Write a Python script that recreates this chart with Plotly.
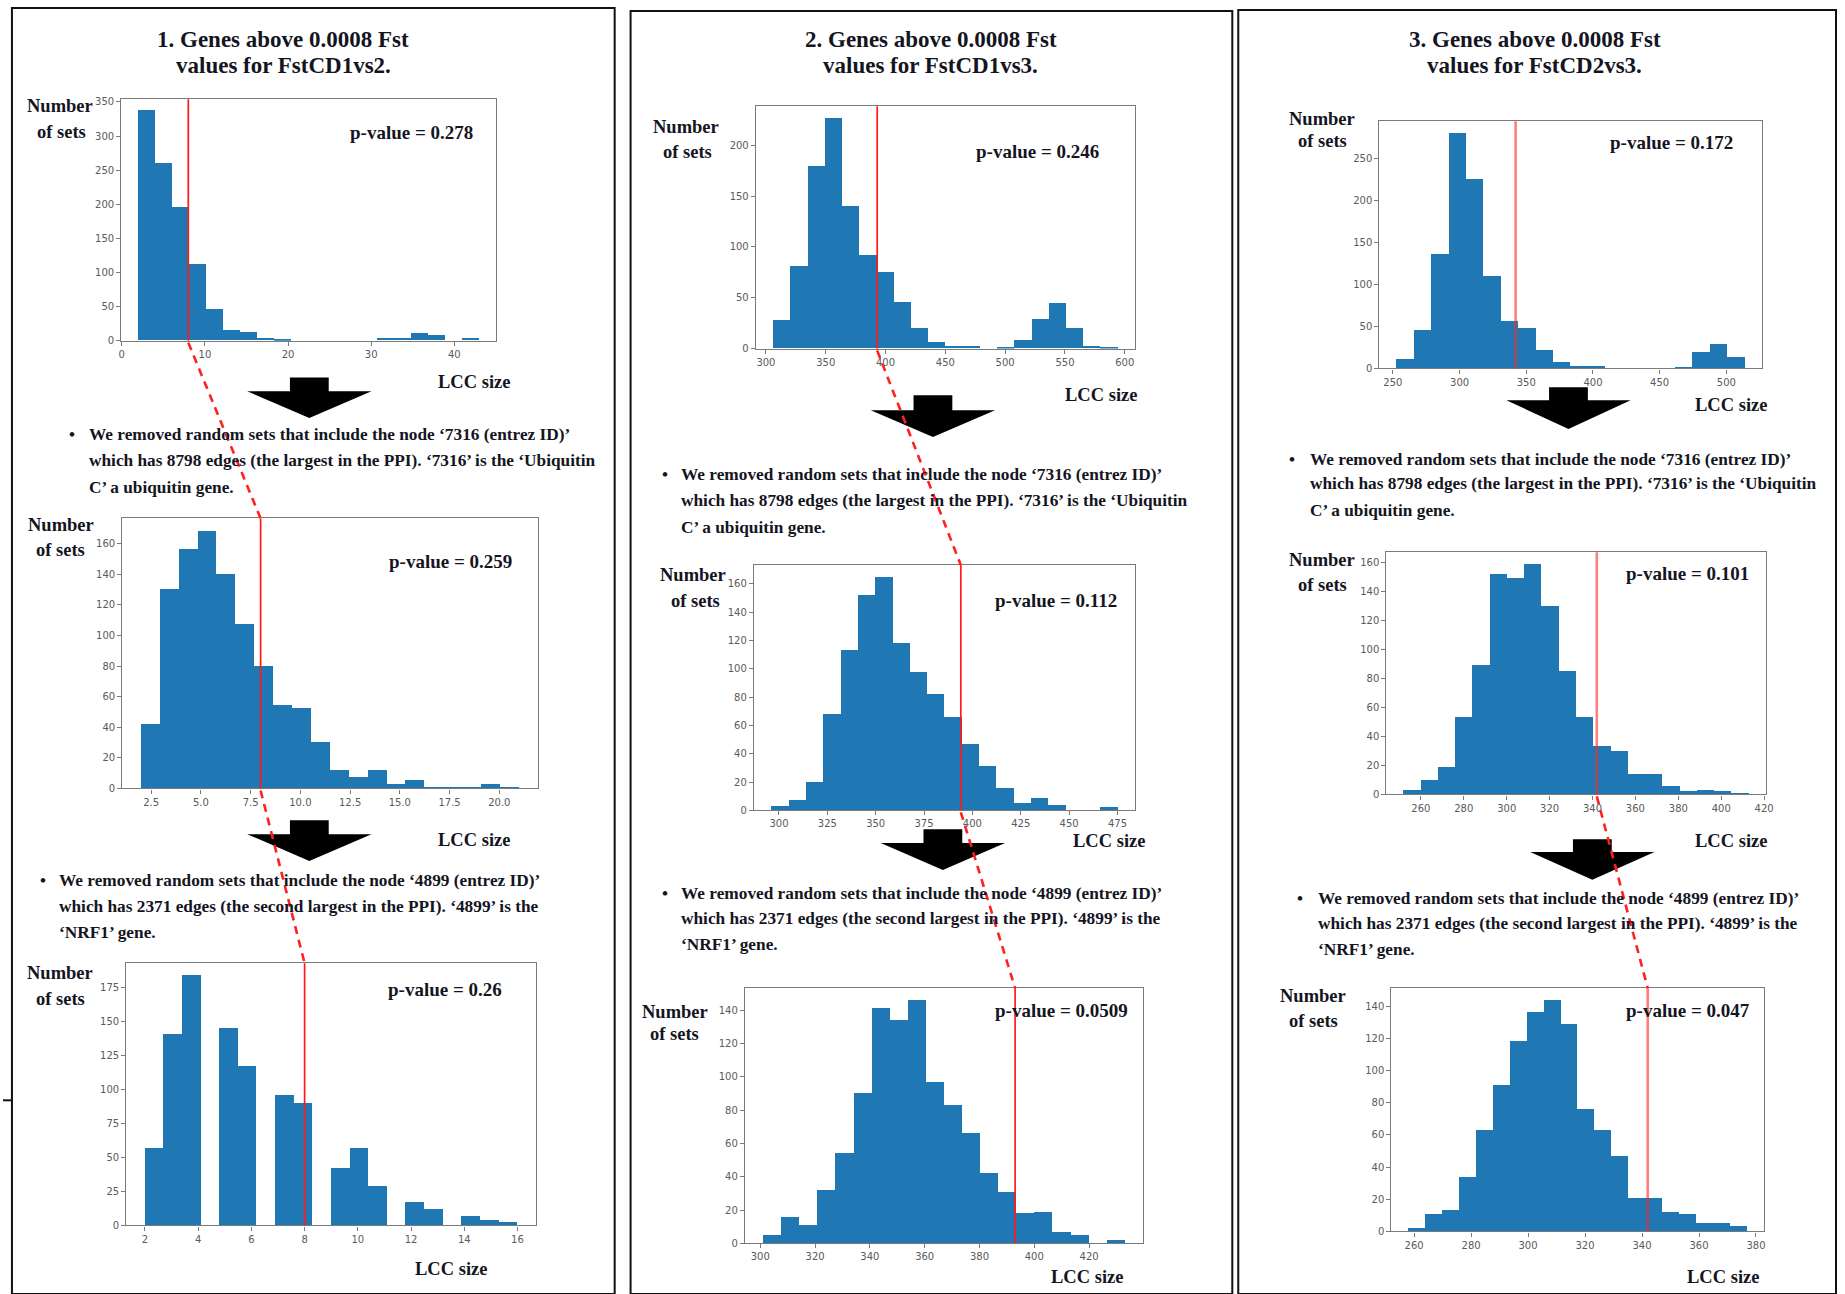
import numpy as np
import plotly.graph_objects as go

W, H = 1845, 1294

# ---------------- data ----------------
# Histogram counts (20 bins each) of LCC size over random gene sets,
# with the bin range (min, max) of the sampled LCC sizes.
cd12_all = [337, 260, 196, 112, 46, 15, 12, 4, 2, 0, 0, 0, 0, 0, 4, 3, 10, 8, 0, 3]
cd12_all_range = (2, 43)
cd12_no7316 = [42, 130, 156, 168, 140, 107, 80, 54, 52, 30, 12, 7, 12, 3, 5, 1, 1, 1, 3, 1]
cd12_no7316_range = (2, 21)
cd12_no4899 = [57, 141, 184, 0, 145, 117, 0, 96, 90, 0, 42, 57, 29, 0, 17, 12, 0, 7, 4, 2]
cd12_no4899_range = (2, 16)

cd13_all = [28, 81, 179, 227, 140, 92, 75, 46, 20, 6, 2, 2, 0, 1, 8, 29, 45, 20, 2, 1]
cd13_all_range = (306, 594)
cd13_no7316 = [3, 7, 20, 68, 113, 152, 165, 118, 98, 82, 66, 47, 31, 16, 5, 9, 4, 0, 0, 2]
cd13_no7316_range = (296, 475)
cd13_no4899 = [5, 16, 11, 32, 54, 90, 141, 134, 146, 97, 83, 66, 42, 31, 18, 19, 7, 5, 0, 2]
cd13_no4899_range = (301, 433)

cd23_all = [11, 46, 136, 281, 226, 110, 57, 48, 22, 7, 3, 3, 0, 0, 0, 0, 2, 20, 29, 13]
cd23_all_range = (253, 514)
cd23_no7316 = [3, 10, 19, 53, 89, 152, 149, 159, 130, 85, 53, 33, 30, 14, 14, 6, 2, 3, 2, 1]
cd23_no7316_range = (252, 413)
cd23_no4899 = [2, 11, 13, 34, 63, 91, 118, 136, 144, 129, 76, 63, 47, 21, 21, 12, 11, 5, 5, 3]
cd23_no4899_range = (258, 377)

# Observed LCC size of the real gene set (red line) and its p-value
observed_lcc = [8, 8, 8, 393, 394, 393, 342, 342, 342]
p_values = ["0.278", "0.259", "0.26", "0.246", "0.112", "0.0509", "0.172", "0.101", "0.047"]

titles = [
    ["1. Genes above 0.0008 Fst", "values for FstCD1vs2."],
    ["2. Genes above 0.0008 Fst", "values for FstCD1vs3."],
    ["3. Genes above 0.0008 Fst", "values for FstCD2vs3."],
]
note_7316 = [
    "We removed random sets that include the node \u20187316 (entrez ID)\u2019",
    "which has 8798 edges (the largest in the PPI). \u20187316\u2019 is the \u2018Ubiquitin",
    "C\u2019 a ubiquitin gene.",
]
note_4899 = [
    "We removed random sets that include the node \u20184899 (entrez ID)\u2019",
    "which has 2371 edges (the second largest in the PPI). \u20184899\u2019 is the",
    "\u2018NRF1\u2019 gene.",
]
y_label = ["Number", "of sets"]
x_label = "LCC size"

hist_counts = [cd12_all, cd12_no7316, cd12_no4899,
               cd13_all, cd13_no7316, cd13_no4899,
               cd23_all, cd23_no7316, cd23_no4899]
hist_ranges = [cd12_all_range, cd12_no7316_range, cd12_no4899_range,
               cd13_all_range, cd13_no7316_range, cd13_no4899_range,
               cd23_all_range, cd23_no7316_range, cd23_no4899_range]

# ---------------- layout geometry (pixels) ----------------
# plot boxes: left, top, right, bottom
boxes = [
    (119, 97, 496, 340), (120, 519, 538, 791), (124, 967, 536, 1231),
    (757, 104, 1138, 348), (755, 566, 1138, 813), (746, 992, 1146, 1249),
    (1384, 119, 1769, 368), (1391, 553, 1773, 797), (1396, 992, 1771, 1237),
]
x_dticks = [10, 2.5, 2, 50, 25, 20, 50, 20, 20]
y_dticks = [50, 20, 25, 50, 20, 20, 50, 20, 20]
number_pos = [((57, 104), (59, 130)), ((58, 526), (58, 551)), ((57, 977), (58, 1003)),
              ((687, 125), (688, 150)), ((694, 576), (696, 602)), ((676, 1016), (675, 1038)),
              ((1326, 117), (1327, 139)), ((1326, 561), (1327, 586)), ((1317, 1000), (1318, 1025))]
pval_pos = [(411, 130), (450, 562), (444, 993), (1040, 150), (1059, 602), (1064, 1015),
            (1678, 140), (1694, 574), (1694, 1015)]
lcc_pos = [(474, 382), (474, 843), (450, 1275), (1104, 395), (1112, 844), (1090, 1283),
           (1737, 405), (1737, 844), (1729, 1283)]
title_pos = [(282, 37, 63), (933, 37, 63), (1540, 37, 63)]
note_blocks = [
    (note_7316, 69, 84, [435, 461, 488]),
    (note_4899, 40, 54, [884, 910, 936]),
    (note_7316, 666, 680, [475, 501, 528]),
    (note_4899, 666, 680, [897, 922, 948]),
    (note_7316, 1296, 1312, [460, 484, 511]),
    (note_4899, 1304, 1320, [902, 927, 953]),
]
# block arrows: centre x, shaft top, head top, tip
arrows = [(308, 377, 391, 418), (308, 823, 837, 864),
          (935, 395, 410, 437), (945, 832, 846, 873),
          (1574, 387, 400, 429), (1598, 842, 855, 883)]
# dashed links between red lines (panel index pairs)
links = [(0, 1), (1, 2), (3, 4), (4, 5), (7, 8)]
borders = [(9, 5, 615, 1300), (631, 8, 1236, 1300), (1242, 7, 1843, 1300)]


def X(px):
    return px / W


def Y(py):
    return 1 - py / H


SERIF = "Liberation Serif"
TXT = "#15151f"
BAR = "#1f77b4"

fig = go.Figure()
shapes = []
annotations = []
xranges = []

for i, (counts, (lo, hi)) in enumerate(zip(hist_counts, hist_ranges)):
    n = len(counts)
    width = (hi - lo) / n
    centers = lo + width * (np.arange(n) + 0.5)
    span = hi - lo
    xr = [lo - 0.05 * span, hi + 0.05 * span]
    yr = [0, max(counts) * 1.05]
    xranges.append(xr)
    k = "" if i == 0 else str(i + 1)
    fig.add_trace(go.Bar(x=centers, y=counts, width=width, marker=dict(color=BAR, line=dict(width=0)),
                         xaxis="x" + k, yaxis="y" + k, showlegend=False, hoverinfo="x+y"))
    l, t, r, b = boxes[i]
    axis_common = dict(showline=True, mirror=True, linecolor="#7a7a7a", linewidth=1.3,
                       ticks="outside", ticklen=4, tickcolor="#7a7a7a", showgrid=False, zeroline=False,
                       tickfont=dict(family="DejaVu Sans", size=10, color="#5a5a5a"), tick0=0)
    fig.update_layout(**{
        "xaxis" + k: dict(domain=[X(l), X(r)], range=xr, anchor="y" + k, dtick=x_dticks[i],
                          tickformat=".1f" if x_dticks[i] == 2.5 else "", **axis_common),
        "yaxis" + k: dict(domain=[Y(b), Y(t)], range=yr, anchor="x" + k, dtick=y_dticks[i], **axis_common),
    })
    col = i // 3
    red = "rgba(255,40,40,0.6)" if col == 2 else "#ff1a1a"
    shapes.append(dict(type="line", xref="x" + k, yref="y" + k + " domain", x0=observed_lcc[i],
                       x1=observed_lcc[i], y0=0, y1=1, line=dict(color=red, width=2.6 if col == 2 else 1.7),
                       layer="above"))
    # axis labels and p-value
    for (px, py), s in zip(number_pos[i], y_label):
        annotations.append(dict(x=X(px), y=Y(py), text=s, font=dict(size=18.5, family=SERIF, color=TXT, weight="bold")))
    annotations.append(dict(x=X(pval_pos[i][0]), y=Y(pval_pos[i][1]), text="p-value = " + p_values[i],
                            font=dict(size=19, family=SERIF, color=TXT, weight="bold")))
    annotations.append(dict(x=X(lcc_pos[i][0]), y=Y(lcc_pos[i][1]), text=x_label,
                            font=dict(size=18.5, family=SERIF, color=TXT, weight="bold")))


def red_px(i):
    l, t, r, b = boxes[i]
    xr = xranges[i]
    return l + (observed_lcc[i] - xr[0]) / (xr[1] - xr[0]) * (r - l)


for a, bidx in links:
    x0, y0 = red_px(a), boxes[a][3] + 2
    x1, y1 = red_px(bidx), boxes[bidx][1]
    shapes.append(dict(type="line", xref="paper", yref="paper", x0=X(x0), y0=Y(y0), x1=X(x1), y1=Y(y1),
                       line=dict(color="#ff2020", width=2.6, dash="8px,6px"), layer="above"))

for cx, st, ht, tip in arrows:
    sw, hw = 19.5, 62.5
    path = (f"M {X(cx - sw)},{Y(st)} L {X(cx + sw)},{Y(st)} L {X(cx + sw)},{Y(ht)} "
            f"L {X(cx + hw)},{Y(ht)} L {X(cx)},{Y(tip)} L {X(cx - hw)},{Y(ht)} "
            f"L {X(cx - sw)},{Y(ht)} Z")
    shapes.append(dict(type="path", xref="paper", yref="paper", path=path,
                       fillcolor="black", line=dict(width=0), layer="below"))

for l, t, r, b in borders:
    shapes.append(dict(type="rect", xref="paper", yref="paper", x0=X(l), y0=Y(b), x1=X(r), y1=Y(t),
                       line=dict(color="#111", width=2), fillcolor="rgba(0,0,0,0)", layer="below"))
shapes.append(dict(type="line", xref="paper", yref="paper", x0=X(0), x1=X(8), y0=Y(1105), y1=Y(1105),
                   line=dict(color="#111", width=2)))

for (cx, y1, y2), lines in zip(title_pos, titles):
    for yy, s in zip((y1, y2), lines):
        annotations.append(dict(x=X(cx), y=Y(yy), text=s,
                                font=dict(size=23, family=SERIF, color=TXT, weight="bold")))

for lines, bx, tx, ys in note_blocks:
    annotations.append(dict(x=X(bx), y=Y(ys[0]), text="\u2022",
                            font=dict(size=17, family=SERIF, color=TXT, weight="bold")))
    for yy, s in zip(ys, lines):
        annotations.append(dict(x=X(tx), y=Y(yy), text=s, xanchor="left",
                                font=dict(size=17.3, family=SERIF, color=TXT, weight="bold")))

for a in annotations:
    a.setdefault("xref", "paper")
    a.setdefault("yref", "paper")
    a.setdefault("showarrow", False)
    a.setdefault("xanchor", "center")
    a.setdefault("yanchor", "middle")

fig.update_layout(width=W, height=H, margin=dict(l=0, r=0, t=0, b=0, pad=0),
                  paper_bgcolor="white", plot_bgcolor="white", bargap=0,
                  shapes=shapes, annotations=annotations, showlegend=False)

fig.write_html("out.html", config={"displayModeBar": False})
